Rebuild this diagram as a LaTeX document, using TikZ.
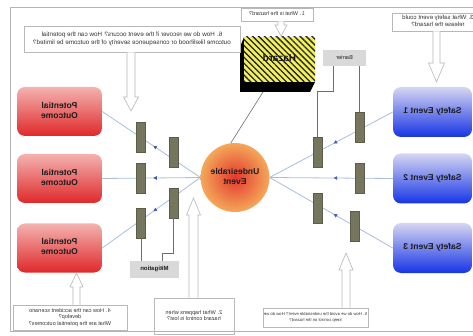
\documentclass[tikz,border=0pt]{standalone}
\usepackage{fontspec}
\setmainfont{Liberation Sans}
\usepackage{graphicx}
\usetikzlibrary{shapes.geometric,patterns.meta,decorations.markings,arrows.meta,calc}

\definecolor{framec}{HTML}{B4B4B4}
\definecolor{qborder}{HTML}{B8B8B8}
\definecolor{qtext}{HTML}{333333}
\definecolor{lblue}{HTML}{A9BEE2}
\definecolor{dblue}{HTML}{3F5CB0}
\definecolor{barfill}{HTML}{76765F}
\definecolor{bardraw}{HTML}{5C5C4A}
\definecolor{conn}{HTML}{6E6E6E}
\definecolor{labfill}{HTML}{D9D9D9}
\definecolor{potop}{HTML}{F3B3B0}
\definecolor{pobot}{HTML}{E0282A}
\definecolor{setop}{HTML}{D6D6F2}
\definecolor{sebot}{HTML}{1634E6}
\definecolor{uein}{HTML}{E3382C}
\definecolor{ueout}{HTML}{F4A85A}
\definecolor{hazy}{HTML}{F2F060}
\definecolor{ink}{HTML}{1C1C1C}

\newcommand{\mir}[1]{\reflectbox{\begin{tabular}{@{}c@{}}#1\end{tabular}}}
% hollow arrow: x, base y, head-base y, tip y, shaft half width, head half width
\newcommand{\harrow}[6]{\draw[hollow] (#1-#5,#2) -- (#1-#5,#3) -- (#1-#6,#3) -- (#1,#4) -- (#1+#6,#3) -- (#1+#5,#3) -- (#1+#5,#2);}

\tikzset{
  qbox/.style={draw=qborder, fill=white, line width=0.6pt, inner sep=0pt, text=qtext, font=\fontsize{5.5}{6.6}\selectfont},
  hollow/.style={draw=qborder, fill=white, line width=0.6pt, line join=miter},
  pobox/.style={rounded corners=8pt, top color=potop, bottom color=pobot, draw=none, minimum width=85pt, minimum height=49pt, inner sep=0pt, text=ink, font=\fontsize{8.5}{10}\selectfont\bfseries},
  sebox/.style={rounded corners=8pt, top color=setop, bottom color=sebot, draw=none, minimum width=79pt, minimum height=50pt, inner sep=0pt, text=ink, font=\fontsize{8.5}{10}\selectfont\bfseries},
  barbox/.style={draw=bardraw, fill=barfill, line width=0.5pt, minimum width=9pt, minimum height=30pt, inner sep=0pt},
  labbox/.style={fill=labfill, draw=none, inner sep=0pt, text=ink},
  bline/.style={draw=lblue, line width=0.8pt, postaction={decorate}, decoration={markings, mark=at position 0.48 with {\arrow[dblue]{Triangle[length=3.5pt,width=3.5pt]}}}},
  gline/.style={draw=conn, line width=0.6pt}
}

\begin{document}
\begin{tikzpicture}[x=1pt, y=-1pt]
\useasboundingbox (0,0) rectangle (473,336);
\clip (0,0) rectangle (473,336);
\fill[white] (0,0) rectangle (473,336);

% frame
\draw[framec, line width=0.8pt] (10,7) rectangle (490,331);

% main nodes
\node[pobox] (po1) at (59.5,111.5) {\mir{Potential\\Outcome}};
\node[pobox] (po2) at (59.5,178.5) {\mir{Potential\\Outcome}};
\node[pobox] (po3) at (59.5,248) {\mir{Potential\\Outcome}};
\node[sebox] (se1) at (432.5,112) {\mir{Safety Event 1}};
\node[sebox] (se2) at (432.5,178.5) {\mir{Safety Event 2}};
\node[sebox] (se3) at (432.5,248) {\mir{Safety Event 3}};
\node[ellipse, inner color=uein, outer color=ueout, draw=none, minimum width=64pt, minimum height=69pt, inner sep=0pt, text=ink, font=\fontsize{8.5}{10}\selectfont\bfseries] (ue) at (235,177.5) {\mir{Undesirable\\Event}};

% blue connectors
\draw[bline] (ue.west) -- (po1.east);
\draw[bline] (ue.west) -- (po2.east);
\draw[bline] (ue.west) -- (po3.east);
\draw[bline] (se1.west) -- (ue.east);
\draw[bline] (se2.west) -- (ue.east);
\draw[bline] (se3.west) -- (ue.east);

% hazard (face 244..315 x 37..82, extruded toward lower left)
\fill[black] (244,37) -- (240,47) -- (240,92) -- (310,92) -- (315,82) -- (244,82) -- cycle;
\node[draw=none, minimum width=71pt, minimum height=45pt, inner sep=0pt, preaction={fill=hazy}, pattern={Lines[angle=-45,distance=4.2pt,line width=1.3pt]}, pattern color=black!85] (hz) at (279.5,59.5) {};
\node[inner sep=0.5pt, font=\fontsize{10}{12}\selectfont\bfseries, text=ink] (hzt) at (hz.center) {\mir{Hazard}};
\coordinate (hzl) at (263,92);
\draw[gline] (hzl) -- (ue.97);

% barriers
\node[barbox] (a1) at (141,137) {};
\node[barbox] (a2) at (141,178) {};
\node[barbox] (a3) at (141,223) {};
\node[barbox] (b1) at (173.5,152) {};
\node[barbox] (b2) at (173.5,203) {};
\node[barbox] (c1) at (317.5,152) {};
\node[barbox] (c2) at (317.5,208) {};
\node[barbox] (d1) at (359.5,127) {};
\node[barbox] (d2) at (359.5,178.5) {};
\node[barbox] (d3) at (355,226) {};

% labels
\node[labbox, minimum width=43pt, minimum height=16pt, font=\fontsize{5.5}{6.6}\selectfont] (bar) at (344.5,58) {\mir{Barrier}};
\node[labbox, minimum width=49pt, minimum height=17pt, font=\fontsize{6}{7}\selectfont\bfseries] (mit) at (154.5,269.5) {\mir{Mitigation}};

\draw[gline] ([xshift=-11.5pt]bar.south) -- ++(0,25) -| (c1.north);
\draw[gline] (bar.south -| d1.north) -- (d1.north);
\draw[gline] (a3.south) -- (a3.south |- mit.north);
\draw[gline] (b2.south) -- ++(0,35) -| ([xshift=8pt]mit.north);

% question boxes
\node[qbox, minimum width=216pt, minimum height=26pt, font=\fontsize{6.3}{7.4}\selectfont] (q6) at (132,39) {\mir{6. How do we recover if the event occurs? How can the potential\\outcome likelihood or consequence severity of the outcome be limited?}};
\node[qbox, minimum width=72pt, minimum height=13pt] (q1) at (277,14.5) {\mir{1. What is the hazard?}};
\node[qbox, minimum width=92pt, minimum height=18pt, font=\fontsize{6}{7}\selectfont] (q3) at (438,22) {\mir{3. What safety event could\\release the hazard?}};
\node[qbox, minimum width=114pt, minimum height=25pt] (q4) at (70,317.5) {\mir{4. How can the accident scenario\\develop?\\What are the potential outcomes?}};
\node[qbox, minimum width=80pt, minimum height=36pt] (q2) at (194,316) {\mir{2. What happens when\\hazard control is lost?}};
\node[qbox, minimum width=105pt, minimum height=19pt, font=\fontsize{4.2}{5.2}\selectfont] (q5) at (315.5,317.5) {\mir{5. How do we avoid the undesirable event? How do we\\keep control on the hazard?}};
\draw[framec, line width=0.8pt] (10,331) -- (490,331);

% hollow arrows
\harrow{131}{52.3}{97}{111}{4}{7.5}
\harrow{281}{21.3}{25}{36}{3}{6}
\harrow{436.5}{31.3}{63}{82}{3.5}{8}
\harrow{76.5}{304.7}{287}{273}{3.5}{6.5}
\harrow{193.5}{297.7}{215}{198}{4.5}{7}
\harrow{346}{307.7}{270}{253}{4}{7}
\end{tikzpicture}
\end{document}
